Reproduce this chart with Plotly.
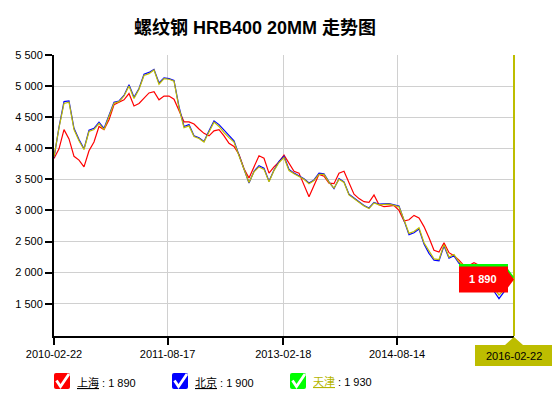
import plotly.graph_objects as go
import pandas as pd

title_text = "螺纹钢 HRB400 20MM 走势图"
series_names = ["上海", "北京", "天津"]
series_colors = ["#ff0000", "#0000ff", "#bdbd00"]
legend_box_colors = ["#ff0000", "#0000ff", "#00ff00"]
legend_text_colors = ["#000000", "#000000", "#b5b500"]

start_date = "2010-02-22"
end_date = "2016-02-22"
dates = pd.date_range(start_date, end_date, periods=93)

shanghai = [
    3834, 3990, 4300, 4150, 3870, 3810, 3700, 3960, 4100, 4350,
    4300, 4460, 4700, 4740, 4780, 4880, 4680, 4720, 4800, 4890,
    4909, 4780, 4840, 4840, 4790, 4600, 4425, 4425, 4390, 4310,
    4240, 4200, 4280, 4300, 4200, 4080, 4030, 3900, 3670, 3520,
    3700, 3880, 3840, 3600, 3700, 3780, 3890, 3760, 3630, 3600,
    3420, 3220, 3400, 3580, 3550, 3440, 3430, 3600, 3630, 3450,
    3260, 3190, 3140, 3130, 3250, 3090, 3060, 3070, 3080, 3000,
    2830, 2850, 2920, 2880, 2740, 2560, 2360, 2330, 2480, 2320,
    2270, 2200, 2110, 2113, 2160, 2120, 2050, 2000, 1950, 1920,
    1900, 1890, 1890,
]
beijing = [
    3850, 4340, 4750, 4760, 4320, 4140, 3990, 4290, 4320, 4420,
    4320, 4520, 4740, 4760, 4850, 5020, 4820, 4960, 5190, 5220,
    5270, 5050, 5130, 5120, 5090, 4670, 4350, 4380, 4200, 4170,
    4110, 4280, 4440, 4380, 4290, 4200, 4120, 3890, 3650, 3440,
    3630, 3720, 3680, 3470, 3650, 3790, 3870, 3660, 3600, 3560,
    3510, 3440, 3490, 3600, 3590, 3460, 3350, 3510, 3460, 3260,
    3200, 3150, 3080, 3040, 3130, 3100, 3110, 3110, 3090, 3070,
    2840, 2610, 2640, 2700, 2460, 2310, 2200, 2190, 2430, 2230,
    2270, 2150, 2090, 2030, 1980, 1930, 1880, 1820, 1700, 1580,
    1690, 1830, 1900,
]
tianjin = [
    3860, 4330, 4720, 4740, 4300, 4120, 3980, 4270, 4300, 4400,
    4300, 4500, 4725, 4750, 4840, 5000, 4800, 4950, 5170, 5200,
    5258, 5030, 5120, 5110, 5080, 4650, 4330, 4360, 4190, 4157,
    4100, 4260, 4420, 4350, 4250, 4170, 4100, 3880, 3660, 3450,
    3620, 3700, 3660, 3460, 3640, 3770, 3850, 3640, 3590, 3540,
    3500, 3430, 3480, 3580, 3580, 3450, 3360, 3500, 3450, 3250,
    3190, 3140, 3070, 3030, 3120, 3090, 3100, 3100, 3080, 3060,
    2850, 2630, 2660, 2720, 2480, 2340, 2221, 2210, 2450, 2250,
    2290, 2170, 2110, 2050, 2000, 1950, 1900, 1850, 1750, 1640,
    1720, 1850, 1930,
]
series_values = [shanghai, beijing, tianjin]

x_tick_vals = ["2010-02-22", "2011-08-17", "2013-02-18", "2014-08-14"]
y_tick_vals = [1500, 2000, 2500, 3000, 3500, 4000, 4500, 5000, 5500]
y_tick_text = ["1 500", "2 000", "2 500", "3 000", "3 500", "4 000", "4 500", "5 000", "5 500"]
y_range = [980, 5500]

FONT = "Liberation Sans, Arial, Noto Sans CJK SC, sans-serif"


def fmt(v):
    return f"{v:,}".replace(",", " ")


fig = go.Figure()
for name, color, vals in zip(series_names, series_colors, series_values):
    fig.add_trace(go.Scatter(x=dates, y=vals, mode="lines", name=name,
                             line=dict(color=color, width=1.2)))

# page has an 8px body margin: figure coords = page coords - 8
OFF = 8
W, H = 560 - OFF, 397 - OFF
ML, MT = 54 - OFF, 55 - OFF
PR, PB = 514 - OFF, 336 - OFF
MR, MB = W - PR, H - PB
PW, PH = PR - ML, PB - MT


def px(x_page):
    return (x_page - OFF - ML) / PW


def py(y_page):
    return (PB - (y_page - OFF)) / PH


shapes = []
annotations = []

# crosshair at last point
shapes.append(dict(type="line", xref="paper", yref="paper", x0=1, x1=1, y0=0, y1=1,
                   line=dict(color="#bdbd00", width=2), layer="above"))

# value flags (green behind, red in front)
flag_path = "M -55,13 L -6,13 L -6,8 L 0,0 L -6,-8 L -6,-13 L -55,-13 Z"
for idx in [2, 0]:
    shapes.append(dict(type="path", xref="paper", yref="y", xsizemode="pixel", ysizemode="pixel",
                       xanchor=1, yanchor=series_values[idx][-1], path=flag_path,
                       fillcolor=legend_box_colors[idx], line=dict(width=0), layer="above"))
annotations.append(dict(xref="paper", yref="y", x=1, y=shanghai[-1], xshift=-31,
                        xanchor="center", yanchor="middle",
                        text="<b>" + fmt(shanghai[-1]) + "</b>", showarrow=False,
                        font=dict(color="white", size=11, family=FONT)))

# date flag under x axis
shapes.append(dict(type="path", xref="paper", yref="paper", xsizemode="pixel", ysizemode="pixel",
                   xanchor=1, yanchor=0,
                   path="M -39,-9 L -9,-9 L 0,-1 L 9,-9 L 38,-9 L 38,-30 L -39,-30 Z",
                   fillcolor="#bdbd00", line=dict(width=0), layer="above"))
annotations.append(dict(xref="paper", yref="paper", x=1, y=0, yshift=-19.5,
                        text=end_date, showarrow=False, xanchor="center", yanchor="middle",
                        font=dict(color="black", size=11, family=FONT)))

# legend
for i, name in enumerate(series_names):
    left_page = 54 + 118 * i
    xa = px(left_page)
    ya = py(389)
    shapes.append(dict(type="path", xref="paper", yref="paper", xsizemode="pixel", ysizemode="pixel",
                       xanchor=xa, yanchor=ya,
                       path="M 2,0 H 14 Q 16,0 16,2 V 14 Q 16,16 14,16 H 2 Q 0,16 0,14 V 2 Q 0,0 2,0 Z",
                       fillcolor=legend_box_colors[i], line=dict(width=0), layer="above"))
    shapes.append(dict(type="path", xref="paper", yref="paper", xsizemode="pixel", ysizemode="pixel",
                       xanchor=xa, yanchor=ya,
                       path="M 2.5,8.5 L 6.5,2.5 L 15,15",
                       fillcolor="rgba(0,0,0,0)", line=dict(color="white", width=2.8), layer="above"))
    annotations.append(dict(xref="paper", yref="paper", x=px(left_page + 21),
                            y=py(382), xanchor="left", yanchor="middle", showarrow=False,
                            text=f"<span style='color:{legend_text_colors[i]}'><u>{name}</u></span> : "
                                 + fmt(series_values[i][-1]),
                            font=dict(size=11, color="black", family=FONT)))

# title
annotations.append(dict(xref="paper", yref="paper", x=px(254.5), y=py(28),
                        xanchor="center", yanchor="middle", showarrow=False,
                        text="<b>" + title_text + "</b>",
                        font=dict(size=18, color="black", family=FONT)))

fig.update_layout(
    width=W, height=H, margin=dict(l=ML, r=MR, t=MT, b=MB, autoexpand=False),
    paper_bgcolor="white", plot_bgcolor="white", showlegend=False,
    font=dict(family=FONT, size=11, color="black"),
    shapes=shapes, annotations=annotations,
    xaxis=dict(type="date", range=[start_date, end_date], tickvals=x_tick_vals, ticktext=x_tick_vals,
               showgrid=True, gridcolor="#d0d0d0", gridwidth=1, showline=True, linecolor="black",
               linewidth=2, ticks="outside", ticklen=7, tickwidth=1.5, tickcolor="black",
               zeroline=False, automargin=False, tickfont=dict(size=11, color="black")),
    yaxis=dict(range=y_range, tickvals=y_tick_vals, ticktext=y_tick_text,
               showgrid=True, gridcolor="#d0d0d0", gridwidth=1, showline=True, linecolor="black",
               linewidth=2, ticks="outside", ticklen=7, tickwidth=1.5, tickcolor="black",
               zeroline=False, automargin=False, tickfont=dict(size=11, color="black")),
)

fig.write_html("out.html")
